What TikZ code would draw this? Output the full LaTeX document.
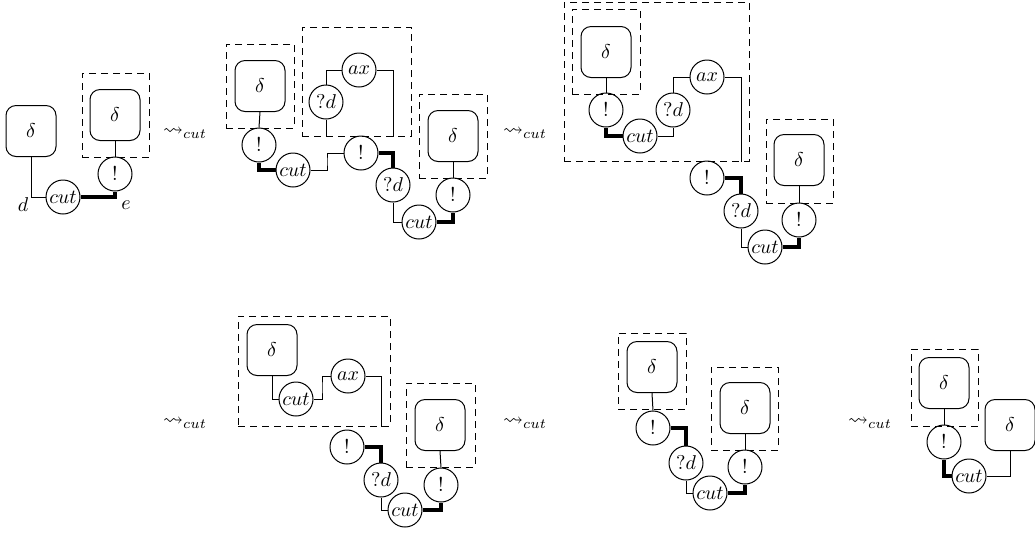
\documentclass[tikz,border=0pt]{standalone}
\usepackage{amssymb}
\usetikzlibrary{calc,fit}
\begin{document}
\begin{tikzpicture}[x=0.5pt,y=-0.5pt,
  wire/.style={line width=0.5pt},
  thickwire/.style={line width=1.6pt},
  cell/.style={circle,draw,line width=0.5pt,minimum size=17pt,inner sep=0.5pt},
  proofbox/.style={draw,line width=0.5pt,rounded corners=5pt,minimum width=25pt,minimum height=25.5pt,inner sep=0pt},
  promo/.style={draw,line width=0.5pt,dash pattern=on 3.5pt off 2.5pt,inner sep=0pt},
  reduce/.style={inner sep=0pt}]
\useasboundingbox (0,0) rectangle (1035,532);

% ---------- first net ----------
\node[proofbox] (a1) at (31,131) {$\delta$};
\node[proofbox] (a2) at (115,115) {$\delta$};
\node[promo,fit={(82,73) (149,157)}] (ab) {};
\node[cell] (aex) at (115,174) {$!$};
\node[cell] (acut) at (63,197) {$cut$};
\node (ld) at (23,205) {$d$};
\node (le) at (126,205) {$e$};
\draw[wire] (a1.south) |- (acut.west);
\draw[thickwire] (acut.east) -| (aex.south);
\draw[wire] (a2.south) -- (aex.north);

\node[reduce] (r1) at (185,133) {$\leadsto_{cut}$};

% ---------- second net ----------
\node[proofbox] (b1) at (260,86) {$\delta$};
\node[promo,fit={(226,44) (294,128)}] (bb1) {};
\node[cell] (bex1) at (259,145) {$!$};
\node[cell] (bcut1) at (293,170) {$cut$};
\node[cell] (bex2) at (361,153) {$!$};
\node[promo,fit={(302,27) (411,136)}] (bb2) {};
\node[cell] (bax) at (359,70) {$ax$};
\node[cell] (bq1) at (326,102) {$?d$};
\node[cell] (bq2) at (393,185) {$?d$};
\node[cell] (bcut2) at (419,222) {$cut$};
\node[cell] (bex3) at (453,195) {$!$};
\node[proofbox] (b2) at (453,136) {$\delta$};
\node[promo,fit={(419,94) (487,178)}] (bb3) {};
\draw[wire] (b1.south) -- (bex1.north);
\draw[thickwire] (bex1.south) |- (bcut1.west);
\draw[wire] (bcut1.east) -| ($(bcut1.east)!0.5!(bex2.west)$) |- (bex2.west);
\draw[wire] (bax.west) -| (bq1.north);
\draw[wire] (bq1.south) -- (bq1.south |- bb2.south);
\draw[wire] (bax.east) -| (bb2.south -| bq2.north);
\draw[thickwire] (bex2.east) -| (bq2.north);
\draw[wire] (bq2.south) |- (bcut2.west);
\draw[thickwire] (bcut2.east) -| (bex3.south);
\draw[wire] (b2.south) -- (bex3.north);

\node[reduce] (r2) at (525,133) {$\leadsto_{cut}$};

% ---------- third net ----------
\node[promo,fit={(564,2) (749,161)}] (cbig) {};
\node[promo,fit={(572,9) (640,94)}] (cb1) {};
\node[proofbox] (c1) at (606,52) {$\delta$};
\node[cell] (cex1) at (606,110) {$!$};
\node[cell] (ccut1) at (640,136) {$cut$};
\node[cell] (cq1) at (673,110) {$?d$};
\node[cell] (cax) at (707,77) {$ax$};
\node[cell] (cex2) at (707,178) {$!$};
\node[cell] (cq2) at (741,211) {$?d$};
\node[cell] (ccut2) at (765,247) {$cut$};
\node[cell] (cex3) at (799,220) {$!$};
\node[promo,fit={(766,119) (833,203)}] (cb2) {};
\node[proofbox] (c2) at (799,160) {$\delta$};
\draw[wire] (c1.south) -- (cex1.north);
\draw[thickwire] (cex1.south) |- (ccut1.west);
\draw[wire] (ccut1.east) -| (cq1.south);
\draw[wire] (cq1.north) |- (cax.west);
\draw[wire] (cax.east) -| (cbig.south -| cq2.north);
\draw[thickwire] (cex2.east) -| (cq2.north);
\draw[wire] (cq2.south) |- (ccut2.west);
\draw[thickwire] (ccut2.east) -| (cex3.south);
\draw[wire] (c2.south) -- (cex3.north);

% ---------- fourth net ----------
\node[reduce] (r3) at (185,423) {$\leadsto_{cut}$};
\node[promo,fit={(238,316) (390,426)}] (db1) {};
\node[proofbox] (d1) at (272,350) {$\delta$};
\node[cell] (dcut1) at (296,399) {$cut$};
\node[cell] (dax) at (348,376) {$ax$};
\node[cell] (dex1) at (347,447) {$!$};
\node[cell] (dq) at (381,480) {$?d$};
\node[cell] (dcut2) at (405,510) {$cut$};
\node[cell] (dex2) at (441,485) {$!$};
\node[promo,fit={(406,383) (475,467)}] (db2) {};
\node[proofbox] (d2) at (440,425) {$\delta$};
\draw[wire] (d1.south) |- (dcut1.west);
\draw[wire] (dcut1.east) -| ($(dcut1.east)!0.5!(dax.west)$) |- (dax.west);
\draw[wire] (dax.east) -| (db1.south -| dq.north);
\draw[thickwire] (dex1.east) -| (dq.north);
\draw[wire] (dq.south) |- (dcut2.west);
\draw[thickwire] (dcut2.east) -| (dex2.south);
\draw[wire] (d2.south) -- (dex2.north);

% ---------- fifth net ----------
\node[reduce] (r4) at (525,423) {$\leadsto_{cut}$};
\node[promo,fit={(618,333) (686,409)}] (eb1) {};
\node[proofbox] (e1) at (652,367) {$\delta$};
\node[cell] (eex1) at (653,428) {$!$};
\node[cell] (eq) at (686,463) {$?d$};
\node[cell] (ecut) at (710,493) {$cut$};
\node[cell] (eex2) at (745,467) {$!$};
\node[promo,fit={(711,367) (778,450)}] (eb2) {};
\node[proofbox] (e2) at (745,408) {$\delta$};
\draw[wire] (e1.south) -- (eex1.north);
\draw[thickwire] (eex1.east) -| (eq.north);
\draw[wire] (eq.south) |- (ecut.west);
\draw[thickwire] (ecut.east) -| (eex2.south);
\draw[wire] (e2.south) -- (eex2.north);

% ---------- sixth net ----------
\node[reduce] (r5) at (870,423) {$\leadsto_{cut}$};
\node[promo,fit={(911,349) (978,426)}] (fb) {};
\node[proofbox] (f1) at (944,383) {$\delta$};
\node[cell] (fex) at (944,442) {$!$};
\node[cell] (fcut) at (969,476) {$cut$};
\node[proofbox] (f2) at (1010,425) {$\delta$};
\draw[wire] (f1.south) -- (fex.north);
\draw[thickwire] (fex.south) |- (fcut.west);
\draw[wire] (fcut.east) -| (f2.south);
\end{tikzpicture}
\end{document}
